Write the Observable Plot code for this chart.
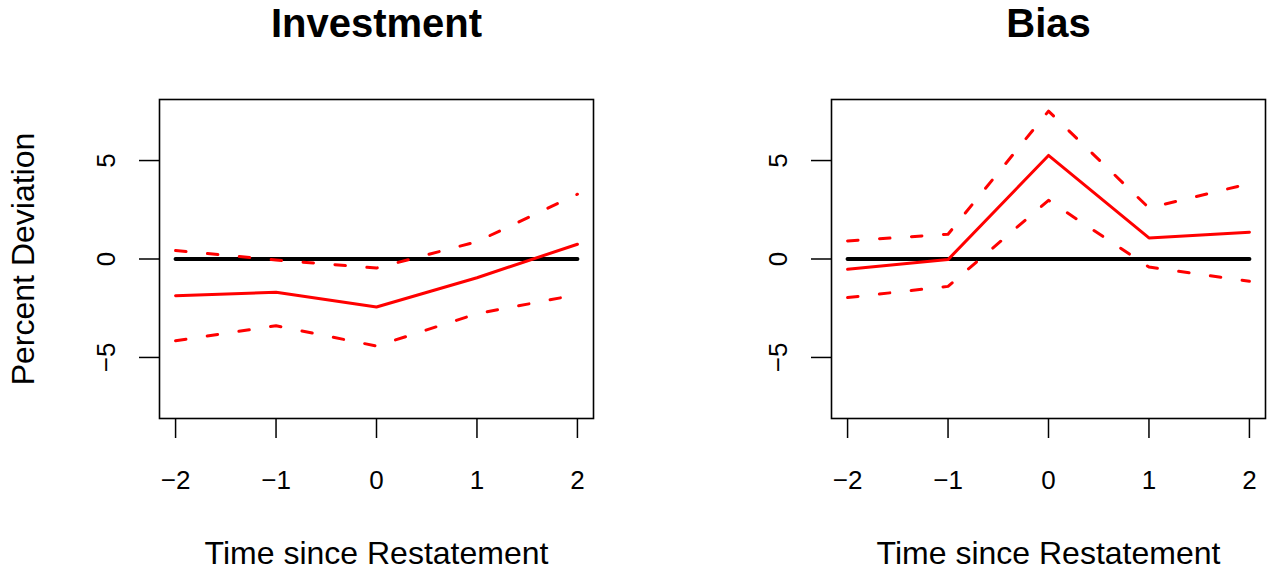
<!DOCTYPE html>
<html>
<head>
<meta charset="utf-8">
<script src="https://cdn.jsdelivr.net/npm/d3@7"></script>
<script src="https://cdn.jsdelivr.net/npm/@observablehq/plot@0.6"></script>
<style>
  body { margin: 0; background: #fff; }
  #wrap { display: flex; width: 1270px; height: 571px; }
</style>
</head>
<body>
<div id="wrap"></div>
<script>
// Time since restatement (x categories / tick labels)
const time = [-2, -1, 0, 1, 2];
const yTicks = [-5, 0, 5];

// Investment panel
const investEst   = [-1.86, -1.69, -2.44, -0.95, 0.75];
const investUpper = [0.43, -0.05, -0.46, 0.88, 3.29];
const investLower = [-4.15, -3.39, -4.42, -2.78, -1.81];

// Bias panel
const biasEst   = [-0.52, -0.03, 5.26, 1.07, 1.36];
const biasUpper = [0.92, 1.26, 7.51, 2.59, 3.83];
const biasLower = [-1.96, -1.39, 2.98, -0.41, -1.13];

// Reference (zero) line
const zeroLine = [0, 0, 0, 0, 0];

const titles = ["Investment", "Bias"];
const xLabel = "Time since Restatement";
const yLabel = "Percent Deviation";

const FONT = "'Liberation Sans', Arial, Helvetica, sans-serif";
const intFormat = d3.format("d");

function panel({title, est, upper, lower, showYLabel, marginLeft, marginRight}) {
  const rows = time.map((t, i) => ({t, est: est[i], upper: upper[i], lower: lower[i], zero: zeroLine[i]}));
  const dash = {stroke: "#ff0000", strokeWidth: 3, strokeDasharray: "10.5,21.5", strokeLinecap: "round"};
  const marks = [
    Plot.axisX({ticks: time, tickFormat: intFormat, tickSize: 20, tickPadding: 32, strokeWidth: 1.5, label: null, fontSize: 26}),
    Plot.axisY({ticks: yTicks, tickFormat: intFormat, tickSize: 20, tickPadding: 25, tickRotate: -90, strokeWidth: 1.5, label: null, fontSize: 26}),
    Plot.line(rows, {x: "t", y: "zero", stroke: "black", strokeWidth: 4}),
    Plot.line(rows, {x: "t", y: "upper", ...dash}),
    Plot.line(rows, {x: "t", y: "lower", ...dash}),
    Plot.line(rows, {x: "t", y: "est", stroke: "#ff0000", strokeWidth: 3}),
    Plot.frame({stroke: "black", strokeWidth: 1.6}),
    Plot.text([title], {text: d => d, frameAnchor: "top", textAnchor: "middle", lineAnchor: "bottom", dy: -63, fontSize: 40, fontWeight: "bold", fill: "black"}),
    Plot.text([xLabel], {text: d => d, frameAnchor: "bottom", textAnchor: "middle", lineAnchor: "bottom", dy: 145, fontSize: 32, fill: "black"})
  ];
  if (showYLabel) {
    marks.push(Plot.text([yLabel], {text: d => d, frameAnchor: "left", textAnchor: "middle", lineAnchor: "bottom", rotate: -90, dx: -125.5, fontSize: 32, fill: "black"}));
  }
  return Plot.plot({
    width: 635,
    height: 571,
    marginLeft,
    marginRight,
    marginTop: 99,
    marginBottom: 153,
    style: {fontFamily: FONT, fontSize: "26px", color: "black", background: "white", overflow: "visible"},
    x: {domain: [-2.16, 2.16]},
    y: {domain: [-8.1, 8.1]},
    marks
  });
}

const wrap = document.getElementById("wrap");
wrap.appendChild(panel({title: titles[0], est: investEst, upper: investUpper, lower: investLower, showYLabel: true, marginLeft: 159, marginRight: 42}));
wrap.appendChild(panel({title: titles[1], est: biasEst, upper: biasUpper, lower: biasLower, showYLabel: false, marginLeft: 196, marginRight: 5}));
</script>
</body>
</html>
